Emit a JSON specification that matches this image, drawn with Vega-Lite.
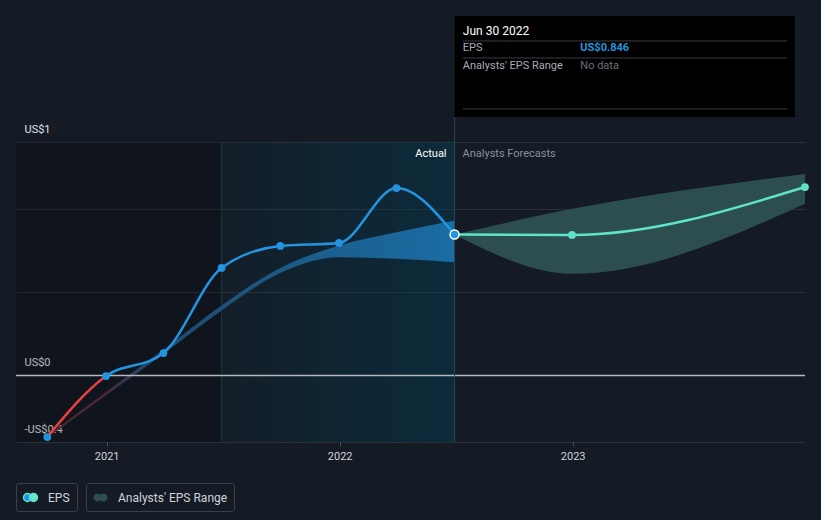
{
  "$schema": "https://vega.github.io/schema/vega-lite/v6.json",
  "width": 789,
  "height": 426,
  "autosize": {"type": "none"},
  "padding": {"left": 16, "top": 16, "right": 16, "bottom": 78},
  "background": "#151b25",
  "config": {
    "view": {"stroke": null},
    "font": "Roboto",
    "legend": {
      "orient": "none",
      "direction": "horizontal",
      "strokeColor": "#3b414b",
      "cornerRadius": 2,
      "padding": 6.5,
      "labelColor": "#d0d4da",
      "labelFontSize": 12,
      "labelFont": "Roboto",
      "symbolSize": 196,
      "labelOffset": 9.5
    }
  },
  "datasets": {
    "eps": [
      {"date": "2020-09-30", "eps": -0.37},
      {"date": "2020-12-31", "eps": -0.004},
      {"date": "2021-03-31", "eps": 0.134},
      {"date": "2021-06-30", "eps": 0.645},
      {"date": "2021-09-30", "eps": 0.777},
      {"date": "2021-12-31", "eps": 0.795},
      {"date": "2022-03-31", "eps": 1.125},
      {"date": "2022-06-30", "eps": 0.846}
    ],
    "band": [
      {"date": "2020-09-30", "lo": -0.375, "hi": -0.362},
      {"date": "2020-12-31", "lo": -0.12, "hi": -0.1},
      {"date": "2021-03-31", "lo": 0.13, "hi": 0.155},
      {"date": "2021-06-30", "lo": 0.39, "hi": 0.42},
      {"date": "2021-09-30", "lo": 0.615, "hi": 0.645},
      {"date": "2021-12-31", "lo": 0.71, "hi": 0.78},
      {"date": "2022-03-31", "lo": 0.70, "hi": 0.86},
      {"date": "2022-06-30", "lo": 0.68, "hi": 0.93}
    ],
    "fc": [
      {"date": "2022-06-30", "eps": 0.846, "lo": 0.846, "hi": 0.846},
      {"date": "2022-12-31", "eps": 0.843, "lo": 0.61, "hi": 1.0},
      {"date": "2023-12-31", "eps": 1.131, "lo": 1.03, "hi": 1.21}
    ],
    "one": [{}]
  },
  "layer": [
    {
      "data": {"name": "one"},
      "mark": {"type": "rect", "fill": "#000000", "opacity": 0.2},
      "encoding": {
        "x": {
          "datum": {"year": 2020, "month": 8, "date": 12},
          "type": "temporal",
          "scale": {"domain": [{"year": 2020, "month": 8, "date": 12}, {"year": 2023, "month": 12, "date": 31}]},
          "axis": {
            "values": [{"year": 2021, "month": 1, "date": 1}, {"year": 2022, "month": 1, "date": 1}, {"year": 2023, "month": 1, "date": 1}],
            "format": "%Y",
            "title": null,
            "grid": false,
            "domain": false,
            "ticks": true,
            "tickSize": 4,
            "tickColor": "#4a505a",
            "labelColor": "#d0d4da",
            "labelFontSize": 11,
            "labelPadding": 4
          }
        },
        "x2": {"datum": {"year": 2021, "month": 6, "date": 30}},
        "y": {
          "datum": -0.4,
          "type": "quantitative",
          "scale": {"domain": [-0.4, 2.158], "nice": false, "zero": false},
          "axis": {
            "values": [-0.4, 0, 0.5, 1, 1.4],
            "title": null,
            "domain": false,
            "ticks": false,
            "grid": true,
            "gridColor": "#2b3039",
            "gridWidth": 1,
            "labelExpr": "datum.value == 1.4 ? 'US$1' : datum.value == 0 ? 'US$0' : datum.value == -0.4 ? '-US$0.4' : ''",
            "labelAlign": "left",
            "labelPadding": -8,
            "labelBaseline": "bottom",
            "labelOffset": -8,
            "labelColor": "#e0e3e7",
            "labelFontSize": 11
          }
        },
        "y2": {"datum": 1.4}
      }
    },
    {
      "data": {"name": "one"},
      "mark": {
        "type": "rect",
        "fill": {"gradient": "linear", "x1": 0, "x2": 1, "y1": 0, "y2": 0,
          "stops": [{"offset": 0, "color": "rgba(0,62,85,0.08)"}, {"offset": 1, "color": "rgba(0,62,85,0.45)"}]}
      },
      "encoding": {
        "x": {"datum": {"year": 2021, "month": 6, "date": 30}, "type": "temporal"},
        "x2": {"datum": {"year": 2022, "month": 6, "date": 30}},
        "y": {"datum": -0.4, "type": "quantitative"},
        "y2": {"datum": 1.4}
      }
    },
    {
      "data": {"name": "one"},
      "mark": {"type": "rule", "stroke": "#1a3642", "strokeWidth": 1},
      "encoding": {
        "x": {"datum": {"year": 2021, "month": 6, "date": 30}, "type": "temporal"},
        "y": {"datum": -0.4, "type": "quantitative"},
        "y2": {"datum": 1.4}
      }
    },
    {
      "data": {"name": "band"},
      "mark": {
        "type": "area",
        "interpolate": "monotone",
        "fill": {"gradient": "linear", "x1": 0, "x2": 1, "y1": 0, "y2": 0,
          "stops": [
            {"offset": 0, "color": "#5a2430"},
            {"offset": 0.14, "color": "#47283a"},
            {"offset": 0.25, "color": "#1d4a6e"},
            {"offset": 0.7, "color": "#1b5f8f"},
            {"offset": 1, "color": "#1a6ca4"}
          ]}
      },
      "encoding": {
        "x": {"field": "date", "type": "temporal"},
        "y": {"field": "lo", "type": "quantitative"},
        "y2": {"field": "hi"}
      }
    },
    {
      "data": {"name": "fc"},
      "mark": {"type": "area", "interpolate": "monotone"},
      "encoding": {
        "x": {"field": "date", "type": "temporal"},
        "y": {"field": "lo", "type": "quantitative"},
        "y2": {"field": "hi"},
        "fill": {
          "datum": "Analysts' EPS Range",
          "type": "nominal",
          "scale": {"range": ["#2c4e4f"]},
          "legend": {
            "title": null,
            "legendX": 70,
            "legendY": 467,
            "symbolType": "M-1,0A0.57,0.57 0 1,0 0.14,0A0.57,0.57 0 1,0 -1,0Z M-0.14,0A0.57,0.57 0 1,0 1,0A0.57,0.57 0 1,0 -0.14,0Z",
            "encode": {"symbols": {"update": {
              "fill": {"value": {"gradient": "linear", "x1": 0, "x2": 1, "y1": 0, "y2": 0, "stops": [{"offset": 0, "color": "#1d5b86"}, {"offset": 0.43, "color": "#1d5b86"}, {"offset": 0.43, "color": "#3c7c74"}, {"offset": 1, "color": "#3c7c74"}]}},
              "stroke": {"value": "transparent"},
              "opacity": {"value": 1}
            }}}
          }
        }
      }
    },
    {
      "data": {"name": "one"},
      "mark": {"type": "rule", "stroke": "#b5b9bf", "strokeWidth": 1.5},
      "encoding": {"y": {"datum": 0, "type": "quantitative"}}
    },
    {
      "data": {"name": "eps"},
      "mark": {
        "type": "line",
        "interpolate": "monotone",
        "strokeWidth": 2.5,
        "stroke": {"gradient": "linear", "x1": 0, "x2": 1, "y1": 0, "y2": 0,
          "stops": [{"offset": 0, "color": "#e8413f"}, {"offset": 0.145, "color": "#e8413f"}, {"offset": 0.145, "color": "#2394df"}, {"offset": 1, "color": "#2394df"}]}
      },
      "encoding": {
        "x": {"field": "date", "type": "temporal"},
        "y": {"field": "eps", "type": "quantitative"}
      }
    },
    {
      "data": {"name": "fc"},
      "mark": {"type": "line", "interpolate": "monotone", "strokeWidth": 2.5},
      "encoding": {
        "x": {"field": "date", "type": "temporal"},
        "y": {"field": "eps", "type": "quantitative"},
        "color": {
          "datum": "EPS",
          "type": "nominal",
          "scale": {"range": ["#5fe3cb"]},
          "legend": {
            "title": null,
            "legendX": 0,
            "legendY": 467,
            "symbolType": "M-1,0A0.57,0.57 0 1,0 0.14,0A0.57,0.57 0 1,0 -1,0Z M-0.14,0A0.57,0.57 0 1,0 1,0A0.57,0.57 0 1,0 -0.14,0Z",
            "encode": {"symbols": {"update": {
              "fill": {"value": {"gradient": "linear", "x1": 0, "x2": 1, "y1": 0, "y2": 0, "stops": [{"offset": 0, "color": "#2394df"}, {"offset": 0.43, "color": "#2394df"}, {"offset": 0.43, "color": "#6ae6d2"}, {"offset": 1, "color": "#6ae6d2"}]}},
              "stroke": {"value": "transparent"},
              "opacity": {"value": 1}
            }}}
          }
        }
      }
    },
    {
      "data": {"name": "eps"},
      "mark": {"type": "circle", "size": 60, "color": "#2394df", "opacity": 1},
      "encoding": {
        "x": {"field": "date", "type": "temporal"},
        "y": {"field": "eps", "type": "quantitative"}
      }
    },
    {
      "data": {"name": "fc"},
      "transform": [{"filter": "datum.lo != datum.hi"}],
      "mark": {"type": "circle", "size": 60, "color": "#5fe3cb", "opacity": 1},
      "encoding": {
        "x": {"field": "date", "type": "temporal"},
        "y": {"field": "eps", "type": "quantitative"}
      }
    },
    {
      "data": {"name": "one"},
      "mark": {"type": "rule", "stroke": "#244a5a", "strokeWidth": 1},
      "encoding": {
        "x": {"datum": {"year": 2022, "month": 6, "date": 30}, "type": "temporal"},
        "y": {"datum": -0.4, "type": "quantitative"},
        "y2": {"datum": 1.552}
      }
    },
    {
      "data": {"name": "fc"},
      "transform": [{"filter": "datum.lo == datum.hi"}],
      "mark": {"type": "circle", "size": 80, "fill": "#2394df", "stroke": "#ffffff", "strokeWidth": 1.5, "opacity": 1},
      "encoding": {
        "x": {"field": "date", "type": "temporal"},
        "y": {"field": "eps", "type": "quantitative"}
      }
    },
    {
      "data": {"name": "one"},
      "mark": {"type": "rect", "fill": "#000000"},
      "encoding": {
        "x": {"datum": {"year": 2022, "month": 6, "date": 30}, "type": "temporal"},
        "x2": {"datum": {"year": 2023, "month": 12, "date": 15}},
        "y": {"datum": 1.552, "type": "quantitative"},
        "y2": {"datum": 2.158}
      }
    },
    {
      "data": {"values": [{"v": 2.008}, {"v": 1.906}, {"v": 1.6}]},
      "mark": {"type": "rule", "stroke": "#3a3d42", "strokeWidth": 1},
      "encoding": {
        "x": {"datum": {"year": 2022, "month": 7, "date": 13}, "type": "temporal"},
        "x2": {"datum": {"year": 2023, "month": 12, "date": 3}},
        "y": {"field": "v", "type": "quantitative"}
      }
    },
    {
      "data": {"name": "one"},
      "mark": {"type": "text", "align": "left", "baseline": "middle", "fontSize": 12, "color": "#ffffff"},
      "encoding": {
        "x": {"datum": {"year": 2022, "month": 7, "date": 13}, "type": "temporal"},
        "y": {"datum": 2.068, "type": "quantitative"},
        "text": {"value": "Jun 30 2022"}
      }
    },
    {
      "data": {"name": "one"},
      "mark": {"type": "text", "align": "left", "baseline": "middle", "fontSize": 11, "color": "#a9adb4"},
      "encoding": {
        "x": {"datum": {"year": 2022, "month": 7, "date": 13}, "type": "temporal"},
        "y": {"datum": 1.966, "type": "quantitative"},
        "text": {"value": "EPS"}
      }
    },
    {
      "data": {"name": "one"},
      "mark": {"type": "text", "align": "left", "baseline": "middle", "fontSize": 11, "color": "#a9adb4"},
      "encoding": {
        "x": {"datum": {"year": 2022, "month": 7, "date": 13}, "type": "temporal"},
        "y": {"datum": 1.858, "type": "quantitative"},
        "text": {"value": "Analysts' EPS Range"}
      }
    },
    {
      "data": {"name": "one"},
      "mark": {"type": "text", "align": "left", "baseline": "middle", "fontSize": 11, "color": "#2394df", "fontWeight": "bold"},
      "encoding": {
        "x": {"datum": {"year": 2023, "month": 1, "date": 13}, "type": "temporal"},
        "y": {"datum": 1.966, "type": "quantitative"},
        "text": {"value": "US$0.846"}
      }
    },
    {
      "data": {"name": "one"},
      "mark": {"type": "text", "align": "left", "baseline": "middle", "fontSize": 11, "color": "#6b7079"},
      "encoding": {
        "x": {"datum": {"year": 2023, "month": 1, "date": 13}, "type": "temporal"},
        "y": {"datum": 1.858, "type": "quantitative"},
        "text": {"value": "No data"}
      }
    },
    {
      "data": {"name": "one"},
      "mark": {"type": "text", "align": "right", "baseline": "middle", "fontSize": 11, "color": "#ffffff", "dx": -8},
      "encoding": {
        "x": {"datum": {"year": 2022, "month": 6, "date": 30}, "type": "temporal"},
        "y": {"datum": 1.329, "type": "quantitative"},
        "text": {"value": "Actual"}
      }
    },
    {
      "data": {"name": "one"},
      "mark": {"type": "text", "align": "left", "baseline": "middle", "fontSize": 11, "color": "#8a9099", "dx": 8},
      "encoding": {
        "x": {"datum": {"year": 2022, "month": 6, "date": 30}, "type": "temporal"},
        "y": {"datum": 1.329, "type": "quantitative"},
        "text": {"value": "Analysts Forecasts"}
      }
    }
  ]
}
